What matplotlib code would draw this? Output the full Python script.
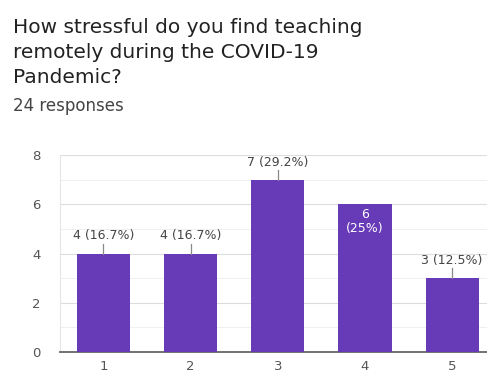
import matplotlib.pyplot as plt

# Survey data
categories = ['1', '2', '3', '4', '5']
counts = [4, 4, 7, 6, 3]
labels = ['4 (16.7%)', '4 (16.7%)', '7 (29.2%)', '6\n(25%)', '3 (12.5%)']
inside = [False, False, False, True, False]

purple = '#673ab7'
text_gray = '#444444'

plt.rcParams['font.family'] = ['DejaVu Sans']

fig = plt.figure(figsize=(4.87, 3.83), dpi=100)
fig.text(0.027, 0.952, 'How stressful do you find teaching\nremotely during the COVID-19\nPandemic?',
         fontsize=14.5, color='#222222', va='top', ha='left', linespacing=1.38)
fig.text(0.027, 0.700, '24 responses', fontsize=12, color='#444444', va='bottom', ha='left')

ax = fig.add_axes([0.123, 0.081, 0.895, 0.514])
x = range(len(categories))
ax.bar(x, counts, width=0.61, color=purple, zorder=3)

ax.set_xlim(-0.5, 4.5)
ax.set_ylim(0, 8)
ax.set_yticks([0, 2, 4, 6, 8])
ax.set_yticks([1, 3, 5, 7], minor=True)
ax.set_xticks(list(x))
ax.set_xticklabels(categories)
ax.grid(axis='y', which='major', color='#dddddd', linewidth=0.8, zorder=0)
ax.grid(axis='y', which='minor', color='#eeeeee', linewidth=0.6, zorder=0)
ax.tick_params(which='both', length=0, labelsize=9.5, colors='#555555')
ax.tick_params(axis='y', pad=14)
ax.tick_params(axis='x', pad=6)
for s in ['top', 'right']:
    ax.spines[s].set_visible(False)
ax.spines['left'].set_color('#e6e6e6')
ax.spines['left'].set_linewidth(0.8)
ax.spines['bottom'].set_color('#666666')
ax.spines['bottom'].set_linewidth(1.3)

# value labels
for i, (v, lab, ins) in enumerate(zip(counts, labels, inside)):
    if ins:
        ax.text(i, v - 0.15, lab, ha='center', va='top', color='white', fontsize=9,
                linespacing=1.1, zorder=4)
    else:
        ax.plot([i, i], [v, v + 0.4], color='#888888', linewidth=0.9, zorder=4)
        ax.text(i, v + 0.45, lab, ha='center', va='bottom', color=text_gray, fontsize=9, zorder=4)

fig.savefig('out.png', dpi=100)
